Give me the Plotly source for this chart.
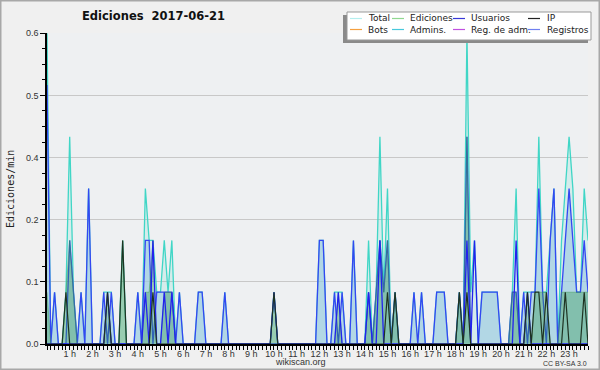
import plotly.graph_objects as go

# 10-minute bins over the day (hours)
horas = [i / 6 for i in range(144)]
hour_ticks = list(range(1, 24))
hour_labels = [f"{h} h" for h in hour_ticks]

# edits per minute, 12 bins (2 hours) per line
total = [
    .6, 0, .1, 0, 0, .1, .4, .1, 0, .1, 0, .3,
    0, 0, 0, .1, .1, .1, 0, 0, .2, 0, 0, 0,
    .1, 0, .3, .2, .2, .1, .1, .2, .1, .2, 0, .1,
    0, 0, 0, 0, .1, .1, 0, 0, 0, 0, 0, .1,
    0, 0, 0, 0, 0, 0, 0, 0, 0, 0, 0, 0,
    .1, 0, 0, 0, 0, 0, 0, 0, 0, 0, 0, 0,
    .2, .2, 0, 0, .1, .1, .1, 0, 0, .2, 0, 0,
    0, .2, 0, .1, .4, .1, .3, 0, .1, 0, 0, 0,
    0, .1, 0, .1, 0, 0, 0, .1, .1, .1, 0, 0,
    0, .1, 0, .6, .1, .2, 0, .1, .1, .1, .1, .1,
    0, 0, 0, .1, .3, 0, .1, .1, .1, .1, .4, .1,
    .1, .2, .3, 0, .2, .3, .4, .3, .1, .1, .3, .2,
]
usuarios = [
    .5, 0, .1, 0, 0, 0, .2, .1, 0, .1, 0, .3,
    0, 0, 0, .1, 0, .1, 0, 0, 0, 0, 0, 0,
    .1, 0, .2, .2, 0, .1, .1, .1, .1, .1, 0, .1,
    0, 0, 0, 0, .1, .1, 0, 0, 0, 0, 0, .1,
    0, 0, 0, 0, 0, 0, 0, 0, 0, 0, 0, 0,
    0, 0, 0, 0, 0, 0, 0, 0, 0, 0, 0, 0,
    .2, .2, 0, 0, .1, 0, .1, 0, 0, .2, 0, 0,
    0, .1, 0, .1, .2, .1, .2, 0, .1, 0, 0, 0,
    0, .1, 0, .1, 0, 0, 0, .1, .1, .1, 0, 0,
    0, .1, 0, .4, 0, 0, 0, .1, .1, .1, .1, .1,
    0, 0, 0, .1, .1, 0, .1, 0, .1, .1, .3, .1,
    0, .2, .3, 0, .1, .2, .3, .2, .1, .1, .2, .1,
]
ediciones = [
    .1, 0, 0, 0, 0, .1, .2, .1, 0, 0, 0, 0,
    0, 0, 0, 0, .1, 0, 0, 0, .2, 0, 0, 0,
    0, 0, .1, .1, .2, 0, 0, .1, .1, .1, 0, 0,
    0, 0, 0, 0, 0, 0, 0, 0, 0, 0, 0, 0,
    0, 0, 0, 0, 0, 0, 0, 0, 0, 0, 0, 0,
    .1, 0, 0, 0, 0, 0, 0, 0, 0, 0, 0, 0,
    0, 0, 0, 0, 0, .1, 0, 0, 0, 0, 0, 0,
    0, .1, 0, .1, .2, .1, .2, 0, .1, 0, 0, 0,
    0, 0, 0, 0, 0, 0, 0, 0, 0, 0, 0, 0,
    0, .1, 0, .4, 0, 0, 0, 0, 0, 0, 0, 0,
    0, 0, 0, .1, .1, 0, 0, .1, 0, .1, .1, .1,
    .1, 0, 0, 0, .1, .1, .1, .1, .1, .1, .1, .1,
]
ip = [
    0, 0, 0, 0, 0, .1, 0, 0, 0, 0, 0, 0,
    0, 0, 0, 0, .1, 0, 0, 0, .2, 0, 0, 0,
    0, 0, 0, 0, .1, 0, 0, 0, 0, 0, 0, 0,
    0, 0, 0, 0, 0, 0, 0, 0, 0, 0, 0, 0,
    0, 0, 0, 0, 0, 0, 0, 0, 0, 0, 0, 0,
    .1, 0, 0, 0, 0, 0, 0, 0, 0, 0, 0, 0,
    0, 0, 0, 0, 0, 0, 0, 0, 0, 0, 0, 0,
    0, 0, 0, 0, 0, 0, .1, 0, .1, 0, 0, 0,
    0, 0, 0, 0, 0, 0, 0, 0, 0, 0, 0, 0,
    0, .1, 0, .1, 0, 0, 0, 0, 0, 0, 0, 0,
    0, 0, 0, 0, 0, 0, 0, .1, 0, .1, .1, 0,
    .1, 0, 0, 0, 0, .1, 0, 0, 0, 0, .1, 0,
]
registros = [
    0, 0, 0, 0, 0, 0, 0, 0, 0, 0, 0, 0,
    0, 0, 0, 0, .1, 0, 0, 0, 0, 0, 0, 0,
    0, 0, .1, 0, .2, 0, 0, .1, 0, .1, 0, 0,
    0, 0, 0, 0, 0, 0, 0, 0, 0, 0, 0, 0,
    0, 0, 0, 0, 0, 0, 0, 0, 0, 0, 0, 0,
    .1, 0, 0, 0, 0, 0, 0, 0, 0, 0, 0, 0,
    0, 0, 0, 0, 0, .1, 0, 0, 0, 0, 0, 0,
    0, .1, 0, 0, .2, 0, 0, 0, 0, 0, 0, 0,
    0, 0, 0, 0, 0, 0, 0, 0, 0, 0, 0, 0,
    0, 0, 0, .2, 0, .2, 0, 0, 0, 0, 0, 0,
    0, 0, 0, 0, .2, 0, 0, .1, 0, 0, 0, 0,
    0, 0, 0, 0, 0, 0, 0, 0, 0, 0, 0, 0,
]

legend_names = ["Total", "Ediciones", "Usuarios", "IP",
                "Bots", "Admins.", "Reg. de adm.", "Registros"]
legend_colors = ["#b4eeee", "#90d890", "#3838d8", "#222222",
                 "#f5a040", "#48c8dc", "#c050e0", "#7080f0"]

W, H = 600, 370
ML, MR, MT, MB = 47, 12, 33, 26
PW, PH = W - ML - MR, H - MT - MB


def px(x):
    return (x - ML) / PW


def py(y):
    return (H - MB - y) / PH


fig = go.Figure()
fig.add_trace(go.Scatter(x=horas, y=total, mode="lines", name="Total",
                         line=dict(color="#40d6c6", width=1.3),
                         fill="tozeroy", fillcolor="rgba(64,214,198,0.14)"))
fig.add_trace(go.Scatter(x=horas, y=usuarios, mode="lines", name="Usuarios",
                         line=dict(color="#3347f2", width=1.3),
                         fill="tozeroy", fillcolor="rgba(160,205,226,0.65)"))
fig.add_trace(go.Scatter(x=horas, y=ediciones, mode="lines", name="Ediciones",
                         line=dict(color="rgba(60,150,80,0.45)", width=1),
                         fill="tozeroy", fillcolor="rgba(45,150,75,0.36)"))
fig.add_trace(go.Scatter(x=horas, y=registros, mode="lines", name="Registros",
                         line=dict(color="#2222ee", width=1.3)))
fig.add_trace(go.Scatter(x=horas, y=ip, mode="lines", name="IP",
                         line=dict(color="#1e3322", width=1.2)))

shapes = [
    dict(type="rect", xref="paper", yref="paper", x0=px(0.75), x1=px(599.25),
         y0=py(369.25), y1=py(0.75), line=dict(color="#a8a8a8", width=1.5),
         layer="above"),
    dict(type="rect", xref="paper", yref="paper", x0=px(343), x1=px(588),
         y0=py(43), y1=py(15), fillcolor="#8a8a8a", line=dict(width=0),
         layer="above"),
    dict(type="rect", xref="paper", yref="paper", x0=px(347), x1=px(591),
         y0=py(40), y1=py(12), fillcolor="white",
         line=dict(color="#999999", width=1), layer="above"),
]
annotations = []
col_line_x = [350, 392, 453, 528]
col_text_x = [366, 408, 469, 545]
row_y = [18.5, 29.5]
for k, (name, color) in enumerate(zip(legend_names, legend_colors)):
    r, c = divmod(k, 4)
    shapes.append(dict(type="line", xref="paper", yref="paper",
                       x0=px(col_line_x[c]), x1=px(col_line_x[c] + 12),
                       y0=py(row_y[r]), y1=py(row_y[r]),
                       line=dict(color=color, width=1.2), layer="above"))
    annotations.append(dict(text=name, xref="paper", yref="paper",
                            x=px(col_text_x[c]), y=py(row_y[r]),
                            xanchor="left", yanchor="middle", showarrow=False,
                            font=dict(family="DejaVu Sans", size=9, color="#222")))

annotations += [
    dict(text="<b>Ediciones\u00a0 2017-06-21</b>", xref="paper", yref="paper",
         x=px(153), y=py(16), xanchor="center", yanchor="middle", showarrow=False,
         font=dict(family="DejaVu Sans", size=11.5, color="#111")),
    dict(text="Ediciones/min", xref="paper", yref="paper", x=px(10), y=py(189),
         xanchor="center", yanchor="middle", textangle=-90, showarrow=False,
         font=dict(family="DejaVu Sans Mono", size=10, color="#222")),
    dict(text="wikiscan.org", xref="paper", yref="paper", x=px(300.5), y=py(362),
         xanchor="center", yanchor="middle", showarrow=False,
         font=dict(family="Liberation Sans", size=9, color="#333")),
    dict(text="CC BY-SA 3.0", xref="paper", yref="paper", x=px(589), y=py(363),
         xanchor="right", yanchor="middle", showarrow=False,
         font=dict(family="Liberation Sans", size=7, color="#333")),
]

fig.update_layout(
    width=W, height=H,
    margin=dict(l=ML, r=MR, t=MT, b=MB, autoexpand=False),
    paper_bgcolor="#f0f0f0", plot_bgcolor="#eef0f2",
    showlegend=False,
    shapes=shapes, annotations=annotations,
    xaxis=dict(range=[0, 143 / 6], showgrid=False, zeroline=False,
               automargin=False,
               showline=True, linecolor="black", linewidth=1.5,
               tickmode="array", tickvals=hour_ticks, ticktext=hour_labels,
               ticks="", ticklen=0,
               tickfont=dict(family="Liberation Sans", size=9, color="#333"),
               minor=dict(tickmode="array", tickvals=horas, ticks="outside",
                          ticklen=4, tickwidth=1.2, tickcolor="black",
                          showgrid=False)),
    yaxis=dict(range=[0, 0.6005], tick0=0, dtick=0.12, tickformat=".1f",
               automargin=False,
               showgrid=True, gridcolor="#c8c8c8", gridwidth=1, zeroline=False,
               showline=True, linecolor="black", linewidth=1.5,
               ticks="outside", ticklen=5, tickwidth=1.2, tickcolor="black",
               tickfont=dict(family="Liberation Sans", size=9, color="#333"),
               minor=dict(tick0=0, dtick=0.03, ticks="outside", ticklen=3.5,
                          tickwidth=1.2, tickcolor="black", showgrid=False)),
)

fig.write_html("out.html",
               config={"displayModeBar": False},
               post_script="document.body.style.margin='0px';"
                           "document.body.style.overflow='hidden';")
